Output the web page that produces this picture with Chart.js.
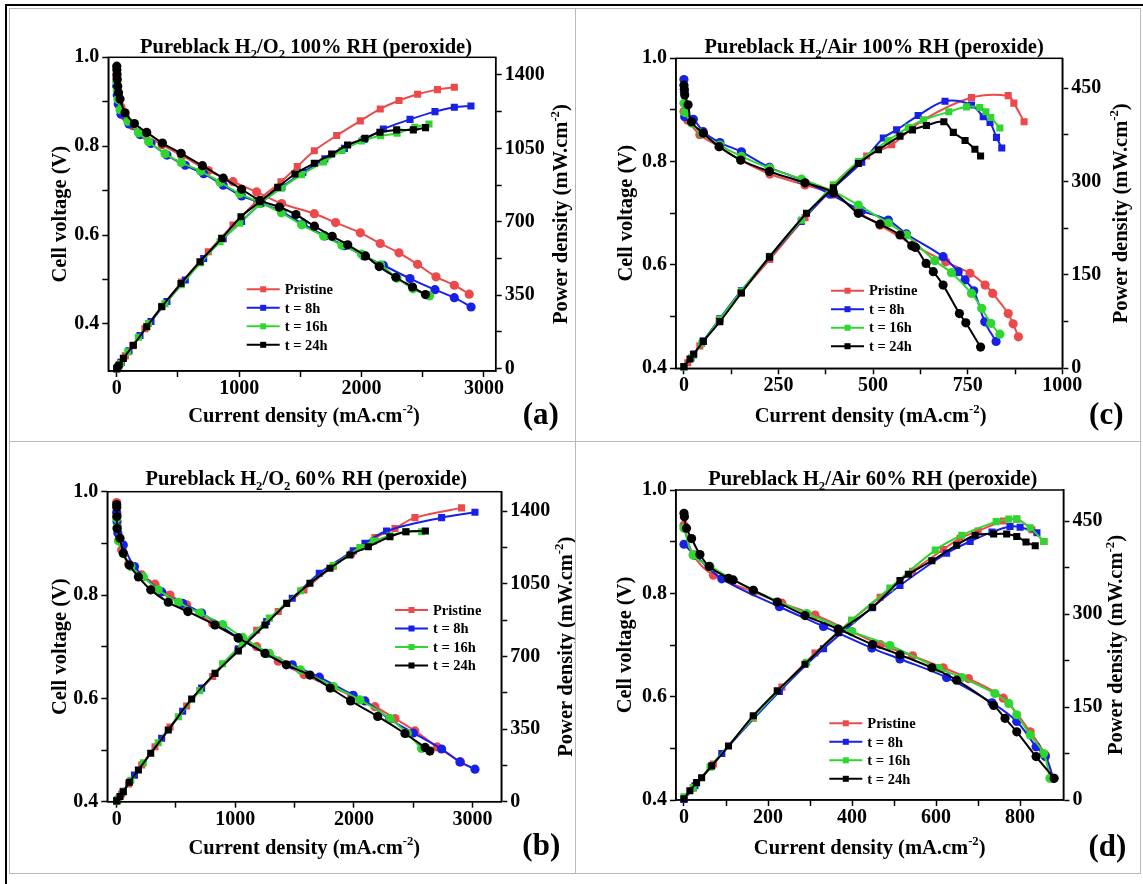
<!DOCTYPE html>
<html>
<head>
<meta charset="utf-8">
<title>Pureblack polarization curves</title>
<script src="https://cdn.jsdelivr.net/npm/chart.js@4.4.1/dist/chart.umd.min.js"></script>
<style>
  html, body { margin: 0; padding: 0; background: #fff; }
  body { position: relative; width: 1143px; height: 884px; overflow: hidden; }
  .rule { position: absolute; background: #000; }
  .cell { position: absolute; box-sizing: border-box; border: 1px solid #b8b8b8; }
  .cell canvas { position: absolute; left: 0; top: 0; }
</style>
</head>
<body>
<div class="rule" style="left:5px;top:4px;width:1138px;height:2px"></div>
<div class="rule" style="left:5px;top:4px;width:2px;height:880px"></div>
<div class="cell" style="left:9px;top:8px;width:567px;height:434px"><canvas id="panelA" width="565" height="432"></canvas></div>
<div class="cell" style="left:575px;top:8px;width:566px;height:434px"><canvas id="panelC" width="564" height="432"></canvas></div>
<div class="cell" style="left:9px;top:441px;width:567px;height:433px"><canvas id="panelB" width="565" height="431"></canvas></div>
<div class="cell" style="left:575px;top:441px;width:566px;height:433px"><canvas id="panelD" width="564" height="431"></canvas></div>
<script>
// ---- series ----
const seriesNames = ['Pristine', 't = 8h', 't = 16h', 't = 24h'];
const seriesColors = ['rgb(236,74,74)', 'rgb(24,32,232)', 'rgb(48,214,48)', '#000000'];

// ---- ticks ----
const voltTicks = [0.4, 0.5, 0.6, 0.7, 0.8, 0.9, 1.0];
const voltLabels = [0.4, 0.6, 0.8, 1.0];
const o2CurrentTicks = [0, 500, 1000, 1500, 2000, 2500, 3000];
const o2CurrentLabels = [0, 1000, 2000, 3000];
const o2PowerTicks = [0, 175, 350, 525, 700, 875, 1050, 1225, 1400];
const o2PowerLabels = [0, 350, 700, 1050, 1400];
const air100CurrentTicks = [0, 125, 250, 375, 500, 625, 750, 875, 1000];
const air100CurrentLabels = [0, 250, 500, 750, 1000];
const air60CurrentTicks = [0, 100, 200, 300, 400, 500, 600, 700, 800];
const air60CurrentLabels = [0, 200, 400, 600, 800];
const airPowerTicks = [0, 75, 150, 225, 300, 375, 450];
const airPowerLabels = [0, 150, 300, 450];

// ---- (a) H2/O2 100% RH : [mA/cm2, V] and [mA/cm2, mW/cm2] ----
const aVoltPristine = [[0,0.955],[5,0.935],[15,0.91],[35,0.888],[70,0.866],[130,0.846],[230,0.825],[370,0.803],[530,0.779],[748,0.745],[950,0.72],[1143,0.697],[1347,0.671],[1614,0.648],[1788,0.628],[1990,0.605],[2153,0.581],[2306,0.56],[2458,0.534],[2608,0.506],[2758,0.487],[2880,0.467]];
const aVolt8h = [[0,0.935],[4,0.915],[12,0.895],[35,0.872],[100,0.85],[190,0.826],[280,0.806],[410,0.78],[560,0.757],[710,0.738],[870,0.712],[1020,0.688],[1180,0.672],[1350,0.652],[1520,0.625],[1700,0.598],[1860,0.576],[2020,0.553],[2178,0.532],[2396,0.502],[2600,0.477],[2758,0.459],[2895,0.438]];
const aVolt16h = [[0,0.945],[4,0.925],[10,0.905],[27,0.882],[90,0.856],[177,0.83],[260,0.81],[394,0.783],[527,0.763],[685,0.744],[844,0.719],[1005,0.693],[1165,0.674],[1345,0.65],[1510,0.623],[1690,0.598],[1840,0.577],[2000,0.557],[2155,0.533],[2290,0.503],[2420,0.479],[2555,0.463]];
const aVolt24h = [[0,0.98],[1,0.972],[2,0.962],[4,0.95],[8,0.935],[15,0.92],[27,0.906],[68,0.875],[144,0.851],[245,0.831],[373,0.807],[525,0.784],[700,0.756],[870,0.728],[1020,0.703],[1170,0.678],[1328,0.663],[1464,0.646],[1615,0.62],[1760,0.597],[1887,0.578],[2032,0.553],[2144,0.529],[2280,0.505],[2416,0.483],[2522,0.466]];
const aPowPristine = [[0,0],[5,4],[15,14],[35,31],[70,61],[130,110],[230,190],[370,298],[530,413],[748,557],[950,685],[1143,797],[1342,891],[1475,963],[1614,1039],[1797,1111],[1990,1181],[2153,1238],[2306,1278],[2458,1308],[2620,1330],[2758,1341]];
const aPow8h = [[0,0],[12,10],[35,30],[100,85],[190,158],[280,225],[410,320],[560,423],[710,525],[870,620],[1020,702],[1180,790],[1350,866],[1520,935],[1700,1000],[1860,1050],[2020,1092],[2178,1142],[2396,1188],[2600,1225],[2758,1246],[2894,1252]];
const aPow16h = [[0,0],[8,6],[30,25],[90,80],[177,150],[260,215],[394,310],[527,400],[685,505],[844,605],[1005,693],[1165,783],[1345,860],[1510,925],[1690,985],[1840,1040],[2000,1085],[2155,1110],[2290,1122],[2436,1151],[2551,1166]];
const aPow24h = [[0,0],[5,5],[20,18],[54,49],[136,112],[245,200],[367,295],[525,406],[680,510],[857,621],[1015,724],[1170,796],[1315,864],[1456,928],[1614,979],[1756,1023],[1886,1066],[2028,1098],[2150,1127],[2287,1138],[2423,1138],[2523,1149]];

// ---- (b) H2/O2 60% RH ----
const bVoltPristine = [[0,0.979],[3,0.955],[6,0.932],[20,0.905],[42,0.887],[100,0.86],[211,0.839],[323,0.821],[450,0.8],[590,0.781],[809,0.745],[1025,0.717],[1180,0.7],[1362,0.672],[1579,0.646],[1826,0.621],[1980,0.605],[2177,0.584],[2346,0.561],[2514,0.537],[2702,0.506],[2899,0.477]];
const bVolt8h = [[0,0.96],[3,0.942],[10,0.92],[56,0.897],[150,0.855],[379,0.806],[556,0.784],[716,0.765],[1025,0.717],[1264,0.687],[1480,0.665],[1708,0.641],[1994,0.606],[2093,0.595],[2300,0.56],[2500,0.533],[2739,0.502],[2893,0.477],[3020,0.463]];
const bVolt16h = [[0,0.948],[3,0.93],[15,0.905],[56,0.88],[120,0.855],[225,0.835],[350,0.81],[520,0.786],[700,0.765],[893,0.743],[1060,0.718],[1287,0.687],[1550,0.655],[1826,0.623],[2050,0.597],[2303,0.561],[2450,0.532],[2570,0.503]];
const bVolt24h = [[0,0.975],[1,0.97],[2,0.952],[4,0.929],[28,0.91],[56,0.881],[107,0.858],[183,0.835],[287,0.81],[435,0.786],[600,0.768],[829,0.742],[1025,0.717],[1250,0.687],[1430,0.665],[1629,0.645],[1800,0.62],[1972,0.595],[2200,0.565],[2430,0.532],[2600,0.505],[2640,0.498]];
const bPowPristine = [[0,3],[6,6],[42,37],[100,86],[211,177],[323,265],[450,360],[590,461],[809,603],[1025,735],[1180,826],[1362,916],[1579,1020],[1826,1134],[1980,1194],[2177,1272],[2346,1316],[2514,1368],[2907,1415]];
const bPow8h = [[0,3],[10,9],[56,50],[150,128],[379,306],[556,436],[716,547],[1025,735],[1264,868],[1480,980],[1708,1100],[1994,1208],[2093,1245],[2275,1304],[2739,1368],[3020,1394]];
const bPow16h = [[0,2],[15,14],[56,49],[120,103],[225,188],[350,284],[520,409],[700,535],[893,664],[1060,761],[1287,884],[1550,1016],[1826,1137],[2050,1224],[2163,1255],[2303,1281],[2438,1300],[2570,1300]];
const bPow24h = [[0,4],[28,25],[56,48],[107,94],[183,153],[287,233],[435,345],[632,495],[829,618],[1025,726],[1250,851],[1433,955],[1629,1052],[1798,1124],[1966,1188],[2121,1228],[2303,1276],[2438,1300],[2602,1304]];

// ---- (c) H2/Air 100% RH ----
const cVoltPristine = [[0,0.897],[10,0.88],[42,0.852],[93,0.829],[150,0.803],[227,0.776],[320,0.755],[395,0.737],[460,0.703],[518,0.677],[606,0.639],[692,0.606],[756,0.584],[796,0.561],[816,0.545],[857,0.506],[870,0.486],[884,0.461]];
const cVolt8h = [[0,0.959],[1,0.935],[2,0.887],[25,0.882],[51,0.858],[95,0.837],[152,0.819],[226,0.789],[310,0.765],[386,0.737],[470,0.705],[540,0.687],[588,0.66],[685,0.616],[725,0.587],[743,0.571],[766,0.55],[795,0.49],[825,0.452]];
const cVolt16h = [[0,0.913],[3,0.895],[20,0.875],[47,0.855],[95,0.832],[152,0.81],[227,0.787],[311,0.766],[395,0.742],[461,0.716],[540,0.681],[588,0.658],[663,0.608],[707,0.585],[760,0.545],[787,0.516],[811,0.487],[835,0.466]];
const cVolt24h = [[0,0.948],[1,0.94],[2,0.929],[11,0.91],[20,0.877],[51,0.855],[93,0.829],[150,0.803],[226,0.781],[320,0.759],[395,0.74],[461,0.7],[518,0.679],[571,0.658],[602,0.637],[612,0.634],[640,0.603],[659,0.587],[685,0.561],[728,0.506],[745,0.488],[784,0.441]];
const cPowPristine = [[0,2],[10,9],[42,36],[93,77],[150,121],[227,175],[320,242],[395,292],[483,341],[549,359],[633,399],[760,435],[857,438],[872,426],[899,396]];
const cPow8h = [[0,2],[25,22],[51,44],[95,80],[152,125],[226,178],[310,236],[386,284],[470,331],[527,370],[562,383],[619,406],[690,429],[760,423],[791,404],[809,395],[826,371],[840,354]];
const cPow16h = [[0,2],[20,17],[47,40],[95,79],[152,124],[227,180],[311,238],[395,295],[461,332],[540,366],[593,387],[633,399],[700,412],[747,420],[782,419],[798,412],[811,403],[835,386]];
const cPow24h = [[0,3],[16,15],[26,23],[51,43],[95,75],[152,121],[226,179],[324,249],[395,290],[461,329],[514,351],[571,373],[604,383],[641,390],[687,396],[712,379],[743,366],[769,352],[784,341]];

// ---- (d) H2/Air 60% RH ----
const dVoltPristine = [[0,0.932],[22,0.874],[70,0.835],[165,0.803],[233,0.781],[312,0.758],[399,0.726],[467,0.701],[544,0.679],[617,0.656],[677,0.635],[760,0.597],[824,0.532],[860,0.487],[879,0.442]];
const dVolt8h = [[0,0.895],[26,0.874],[90,0.828],[227,0.774],[332,0.736],[447,0.694],[514,0.673],[625,0.637],[733,0.588],[792,0.552],[838,0.503],[860,0.484],[879,0.442]];
const dVolt16h = [[0,0.926],[22,0.874],[62,0.852],[165,0.806],[292,0.761],[399,0.726],[490,0.699],[606,0.655],[661,0.637],[740,0.606],[773,0.587],[792,0.565],[824,0.526],[856,0.49],[871,0.442]];
const dVolt24h = [[0,0.955],[1,0.948],[6,0.926],[18,0.906],[38,0.875],[60,0.852],[106,0.829],[117,0.826],[165,0.806],[222,0.783],[288,0.757],[367,0.731],[449,0.701],[514,0.681],[590,0.656],[649,0.632],[737,0.583],[764,0.558],[792,0.532],[838,0.484],[881,0.442]];
const dPowPristine = [[0,1],[22,19],[70,58],[165,132],[233,182],[312,237],[399,290],[467,327],[544,369],[617,404],[657,422],[700,434],[760,450],[792,453],[828,436],[857,417]];
const dPow8h = [[0,1],[26,23],[90,75],[227,175],[332,244],[447,310],[514,346],[625,398],[681,417],[733,432],[776,441],[800,440],[840,431]];
const dPow16h = [[0,5],[22,20],[62,53],[165,133],[292,222],[399,290],[490,342],[598,403],[661,427],[743,449],[773,453],[792,453],[824,439],[856,417]];
const dPow24h = [[0,2],[14,15],[30,28],[42,36],[66,55],[106,87],[165,136],[222,176],[288,219],[367,270],[449,311],[514,354],[534,364],[590,386],[649,411],[693,427],[737,429],[768,429],[792,425],[814,416],[836,410]];

// ---- text ----
const serif = "'Liberation Serif', 'Times New Roman', serif";
const currentTitle = [['Current density (mA.cm'], ['-2', 'sup'], [')']];
const voltTitle = [['Cell voltage (V)']];
const powerTitle = [['Power density (mW.cm'], ['-2', 'sup'], [')']];

Chart.defaults.font.family = serif;
Chart.defaults.font.weight = 'bold';
Chart.defaults.color = '#000';

const toXY = pts => pts.map(([x, y]) => ({ x, y }));
const fmtInt = v => String(v);
const fmtVolt = v => v.toFixed(1);

// text with sub/superscript parts, centred on (cx, cy)
function richText(ctx, parts, cx, cy, size, rotate) {
  const fontFor = kind => `bold ${kind ? size * 0.62 : size}px ${serif}`;
  let total = 0;
  const widths = parts.map(([txt, kind]) => {
    ctx.font = fontFor(kind);
    const w = ctx.measureText(txt).width;
    total += w;
    return w;
  });
  ctx.save();
  ctx.translate(cx, cy);
  if (rotate) ctx.rotate(-Math.PI / 2);
  ctx.textAlign = 'left';
  ctx.textBaseline = 'alphabetic';
  ctx.fillStyle = '#000';
  let x = -total / 2;
  const base = size * 0.33;
  parts.forEach(([txt, kind], i) => {
    ctx.font = fontFor(kind);
    const dy = kind === 'sub' ? size * 0.24 : kind === 'sup' ? -size * 0.42 : 0;
    ctx.fillText(txt, x, base + dy);
    x += widths[i];
  });
  ctx.restore();
}

function axis(a, position, size) {
  const horizontal = position === 'bottom';
  return {
    type: 'linear',
    position,
    min: a.min,
    max: a.max,
    afterBuildTicks: s => { s.ticks = a.ticks.map(v => ({ value: v })); },
    afterFit: s => { if (horizontal) s.height = size; else s.width = size; },
    ticks: {
      autoSkip: false, maxRotation: 0, padding: horizontal ? 0 : 3,
      font: { size: 20, weight: 'bold' }, color: '#000',
      callback: v => a.labels.includes(v) ? a.fmt(v) : ''
    },
    grid: { drawOnChartArea: false, drawTicks: true, tickLength: 6, tickColor: '#000', tickWidth: 1.5 },
    border: { display: true, color: '#000', width: 1.5 }
  };
}

// frame, titles, panel letter and legend
function panelDecor(p) {
  return {
    id: 'panelDecor',
    afterDraw(chart) {
      const { ctx, chartArea: a } = chart;
      const cx = (a.left + a.right) / 2, cy = (a.top + a.bottom) / 2;
      const pl = p.place;
      ctx.save();
      ctx.strokeStyle = '#000';
      ctx.lineWidth = 1.5;
      ctx.strokeRect(a.left, a.top, a.right - a.left, a.bottom - a.top);
      ctx.restore();

      richText(ctx, p.title, cx + pl.title[0], a.top + pl.title[1], 20.5, false);
      richText(ctx, currentTitle, cx + pl.xTitle[0], a.bottom + pl.xTitle[1], 20.5, false);
      richText(ctx, voltTitle, a.left + pl.yLeft, cy, 20.5, true);
      richText(ctx, powerTitle, a.right + pl.yRight, cy, 20.5, true);

      ctx.save();
      ctx.fillStyle = '#000';
      ctx.font = `bold 31px ${serif}`;
      ctx.textAlign = 'center';
      ctx.textBaseline = 'middle';
      ctx.fillText(p.letter, a.right + pl.letter[0], a.bottom + pl.letter[1]);

      ctx.font = `bold 14.5px ${serif}`;
      ctx.textAlign = 'left';
      seriesNames.forEach((name, i) => {
        const x0 = a.left + pl.legend[0];
        const y = a.top + pl.legend[1] + i * 18.5;
        ctx.strokeStyle = seriesColors[i];
        ctx.fillStyle = seriesColors[i];
        ctx.lineWidth = 2;
        ctx.beginPath();
        ctx.moveTo(x0, y);
        ctx.lineTo(x0 + 33, y);
        ctx.stroke();
        ctx.fillRect(x0 + 13.5, y - 3, 6, 6);
        ctx.fillStyle = '#000';
        ctx.fillText(name, x0 + 38, y + 1);
      });
      ctx.restore();
    }
  };
}

function drawPanel(canvasId, p) {
  const datasets = [];
  seriesNames.forEach((name, i) => {
    const style = {
      label: name, borderColor: seriesColors[i], backgroundColor: seriesColors[i],
      borderWidth: 2, tension: 0.35, pointBorderWidth: 0, clip: 6,
      order: seriesNames.length - 1 - i
    };
    datasets.push(Object.assign({ yAxisID: 'yV', data: toXY(p.volt[i]), pointStyle: 'circle', pointRadius: 4.6 }, style));
    datasets.push(Object.assign({ yAxisID: 'yP', data: toXY(p.power[i]), pointStyle: 'rect', pointRadius: 5 }, style));
  });

  new Chart(document.getElementById(canvasId), {
    type: 'line',
    data: { datasets },
    options: {
      responsive: false,
      animation: false,
      events: [],
      layout: { padding: { top: p.box.top, left: 0, right: 0, bottom: 0 } },
      plugins: { legend: { display: false }, tooltip: { enabled: false } },
      scales: {
        x: axis(p.x, 'bottom', p.box.bottom),
        yV: axis(p.v, 'left', p.box.left),
        yP: axis(p.p, 'right', p.box.right)
      }
    },
    plugins: [panelDecor(p)]
  });
}

drawPanel('panelA', {
  title: [['Pureblack H'], ['2', 'sub'], ['/O'], ['2', 'sub'], [' 100% RH (peroxide)']],
  letter: '(a)',
  volt: [aVoltPristine, aVolt8h, aVolt16h, aVolt24h],
  power: [aPowPristine, aPow8h, aPow16h, aPow24h],
  x: { min: -69, max: 3096, ticks: o2CurrentTicks, labels: o2CurrentLabels, fmt: fmtInt },
  v: { min: 0.294, max: 1.0, ticks: voltTicks, labels: voltLabels, fmt: fmtVolt },
  p: { min: -11, max: 1484, ticks: o2PowerTicks, labels: o2PowerLabels, fmt: fmtInt },
  box: { left: 98.3, right: 79.3, top: 48.3, bottom: 70 },
  place: { title: [4, -10.6], xTitle: [2, 44], yLeft: -49.5, yRight: 65, letter: [45, 45], legend: [138.4, 232] }
});

drawPanel('panelC', {
  title: [['Pureblack H'], ['2', 'sub'], ['/Air 100% RH (peroxide)']],
  letter: '(c)',
  volt: [cVoltPristine, cVolt8h, cVolt16h, cVolt24h],
  power: [cPowPristine, cPow8h, cPow16h, cPow24h],
  x: { min: -21, max: 1000, ticks: air100CurrentTicks, labels: air100CurrentLabels, fmt: fmtInt },
  v: { min: 0.4, max: 1.0, ticks: voltTicks, labels: voltLabels, fmt: fmtVolt },
  p: { min: 0, max: 498, ticks: airPowerTicks, labels: airPowerLabels, fmt: fmtInt },
  box: { left: 100, right: 77.7, top: 49.3, bottom: 72.7 },
  place: { title: [5, -11.6], xTitle: [1.5, 47], yLeft: -51, yRight: 58, letter: [44, 48], legend: [155, 232.4] }
});

drawPanel('panelB', {
  title: [['Pureblack H'], ['2', 'sub'], ['/O'], ['2', 'sub'], [' 60% RH (peroxide)']],
  letter: '(b)',
  volt: [bVoltPristine, bVolt8h, bVolt16h, bVolt24h],
  power: [bPowPristine, bPow8h, bPow16h, bPow24h],
  x: { min: -79, max: 3242, ticks: o2CurrentTicks, labels: o2CurrentLabels, fmt: fmtInt },
  v: { min: 0.4, max: 1.0, ticks: voltTicks, labels: voltLabels, fmt: fmtVolt },
  p: { min: 0, max: 1493, ticks: o2PowerTicks, labels: o2PowerLabels, fmt: fmtInt },
  box: { left: 97.3, right: 73.7, top: 49.7, bottom: 71.3 },
  place: { title: [2, -13.4], xTitle: [0, 45.6], yLeft: -48, yRight: 64, letter: [40, 45], legend: [287.7, 118.3] }
});

drawPanel('panelD', {
  title: [['Pureblack H'], ['2', 'sub'], ['/Air 60% RH (peroxide)']],
  letter: '(d)',
  volt: [dVoltPristine, dVolt8h, dVolt16h, dVolt24h],
  power: [dPowPristine, dPow8h, dPow16h, dPow24h],
  x: { min: -19, max: 903, ticks: air60CurrentTicks, labels: air60CurrentLabels, fmt: fmtInt },
  v: { min: 0.4, max: 1.0, ticks: voltTicks, labels: voltLabels, fmt: fmtVolt },
  p: { min: 0, max: 500, ticks: airPowerTicks, labels: airPowerLabels, fmt: fmtInt },
  box: { left: 100, right: 76.6, top: 48, bottom: 73 },
  place: { title: [3, -11.7], xTitle: [0, 47], yLeft: -52, yRight: 52, letter: [44, 48], legend: [153.3, 233.3] }
});
</script>
</body>
</html>
